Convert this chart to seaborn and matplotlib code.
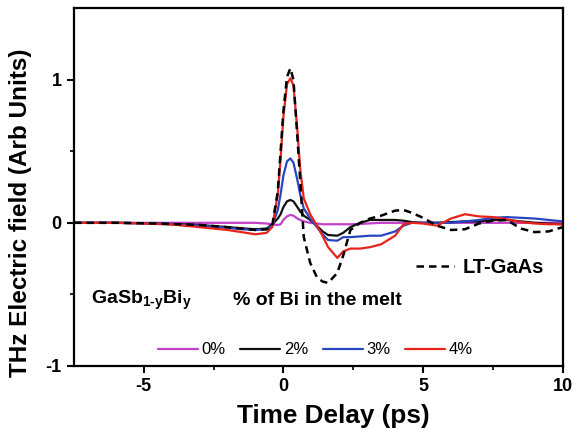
import matplotlib
matplotlib.use("Agg")
import matplotlib.pyplot as plt
import seaborn as sns
import pandas as pd

# ---- data ----
time_ps = [-7.5, -6, -5, -4, -3, -2, -1.5, -1, -0.6, -0.4, -0.2, -0.1, 0, 0.13, 0.25, 0.36,
           0.5, 0.6, 0.73, 0.96, 1.2, 1.4, 1.6, 1.93, 2.14, 2.4, 2.75, 3.1, 3.5, 4.0, 4.3,
           4.6, 5.0, 5.5, 6.0, 6.5, 7.0, 7.5, 8.0, 8.5, 9.0, 9.5, 10]

bi_0 = [0, 0, 0, 0, 0, 0, 0, 0, -0.005, -0.01, -0.015, -0.01, 0.02, 0.045, 0.055, 0.05,
        0.03, 0.02, 0.01, 0.0, -0.005, -0.01, -0.01, -0.01, -0.01, -0.01, -0.008, -0.004, 0,
        0, 0, 0, 0, 0, 0, 0, 0, 0, 0, 0, 0, 0, 0]

bi_2 = [0, 0, -0.003, -0.008, -0.015, -0.03, -0.038, -0.045, -0.04, -0.01, 0.03, 0.06, 0.11,
        0.15, 0.16, 0.15, 0.11, 0.08, 0.05, 0.02, -0.02, -0.06, -0.085, -0.09, -0.07, -0.03,
        0.0, 0.02, 0.02, 0.02, 0.015, 0.005, 0, 0, 0.005, 0.01, 0.01, 0.02, 0.02, 0.01, 0.0,
        -0.005, -0.01]

bi_3 = [0, 0, -0.003, -0.01, -0.02, -0.035, -0.045, -0.05, -0.045, -0.02, 0.09, 0.2, 0.33,
        0.43, 0.45, 0.42, 0.3, 0.2, 0.1, 0.03, -0.03, -0.08, -0.12, -0.125, -0.1, -0.1, -0.095,
        -0.09, -0.09, -0.06, -0.02, 0.0, 0.0, 0.0, 0.0, 0.01, 0.02, 0.035, 0.04, 0.035, 0.03,
        0.02, 0.01]

bi_4 = [0, 0, -0.005, -0.012, -0.03, -0.05, -0.065, -0.08, -0.07, -0.03, 0.2, 0.45, 0.74,
        0.97, 1.01, 0.96, 0.65, 0.38, 0.17, 0.06, -0.02, -0.09, -0.17, -0.245, -0.2, -0.18,
        -0.18, -0.17, -0.15, -0.09, -0.01, 0.0, -0.005, -0.02, 0.03, 0.06, 0.045, 0.04, 0.025,
        0.005, -0.005, -0.01, -0.01]

lt_gaas = [0, 0, -0.003, -0.008, -0.015, -0.03, -0.04, -0.05, -0.045, -0.02, 0.22, 0.5, 0.78,
           1.02, 1.08, 1.0, 0.6, 0.3, -0.1, -0.28, -0.38, -0.41, -0.42, -0.35, -0.23, -0.05,
           0.0, 0.03, 0.05, 0.085, 0.09, 0.07, 0.035, -0.02, -0.05, -0.045, -0.005, 0.015,
           0.02, -0.04, -0.065, -0.06, -0.03]

series_labels = ["0%", "2%", "3%", "4%"]
series_values = [bi_0, bi_2, bi_3, bi_4]
series_colors = ["#c040c8", "#111111", "#2a45c0", "#e8231c"]

x_ticks = [-5, 0, 5, 10]
y_ticks = [-1, 0, 1]

# ---- plotting ----
sns.set_theme(style="ticks")
plt.rcParams["font.family"] = ["Liberation Sans", "DejaVu Sans"]
plt.rcParams["axes.unicode_minus"] = False
plt.rcParams["mathtext.fontset"] = "custom"
plt.rcParams["mathtext.rm"] = "Liberation Sans:bold"
plt.rcParams["mathtext.bf"] = "Liberation Sans:bold"
plt.rcParams["mathtext.it"] = "Liberation Sans:bold"
plt.rcParams["mathtext.default"] = "rm"
for key in ["text.color", "axes.labelcolor", "xtick.color", "ytick.color",
            "xtick.labelcolor", "ytick.labelcolor"]:
    plt.rcParams[key] = "black"

fig = plt.figure(figsize=(5.73, 4.29), dpi=100)
ax = fig.add_axes([0.129, 0.147, 0.853, 0.834])

for lab, vals, col in zip(series_labels, series_values, series_colors):
    df = pd.DataFrame({"t": time_ps, "E": vals})
    sns.lineplot(data=df, x="t", y="E", color=col, lw=1.6, ax=ax, label=lab)

df_lt = pd.DataFrame({"t": time_ps, "E": lt_gaas})
sns.lineplot(data=df_lt, x="t", y="E", color="black", lw=1.8, ax=ax,
             linestyle=(0, (3, 2)), label="LT-GaAs")

h, l = ax.get_legend_handles_labels()
leg1 = ax.legend(h[:4], l[:4], ncol=4, loc="center left", bbox_to_anchor=(0.172, 0.045),
                 frameon=False, fontsize=12, handlelength=2.4, handletextpad=0.2,
                 columnspacing=0.9, borderpad=0, borderaxespad=0, labelcolor="black")
ax.add_artist(leg1)
ax.legend(h[4:], l[4:], loc="center left", bbox_to_anchor=(0.70, 0.274), frameon=False,
          prop={"size": 14.5, "weight": "bold"}, handlelength=1.9, handletextpad=0.4,
          borderpad=0, borderaxespad=0, labelcolor="black")

ax.text(-6.9, -0.54, r"GaSb$_{1\text{-}y}$Bi$_{y}$", fontsize=14, fontweight="bold",
        va="center", ha="left", color="black")
ax.text(-1.82, -0.54, "% of Bi in the melt", fontsize=14, fontweight="bold",
        va="center", ha="left", color="black")

ax.set_xlim(-7.5, 10)
ax.set_ylim(-1, 1.5)
ax.set_xticks(x_ticks)
ax.set_yticks(y_ticks)
ax.set_xticks([-2.5, 2.5, 7.5], minor=True)
ax.set_yticks([-0.5, 0.5], minor=True)
ax.tick_params(axis="both", which="major", direction="out", length=5, width=1.5,
               labelsize=13, pad=4, colors="black")
ax.tick_params(axis="both", which="minor", direction="out", length=3, width=1.2,
               colors="black")
for lbl in ax.get_xticklabels() + ax.get_yticklabels():
    lbl.set_fontweight("bold")
for s in ax.spines.values():
    s.set_linewidth(1.6)
    s.set_visible(True)
    s.set_color("black")

ax.set_xlabel("Time Delay (ps)", fontsize=18.8, fontweight="bold", color="black")
ax.set_ylabel("THz Electric field (Arb Units)", fontsize=17.5, fontweight="bold",
              color="black")
ax.xaxis.set_label_coords(0.53, -0.105)
ax.yaxis.set_label_coords(-0.086, 0.427)

fig.savefig("out.png", dpi=100)
